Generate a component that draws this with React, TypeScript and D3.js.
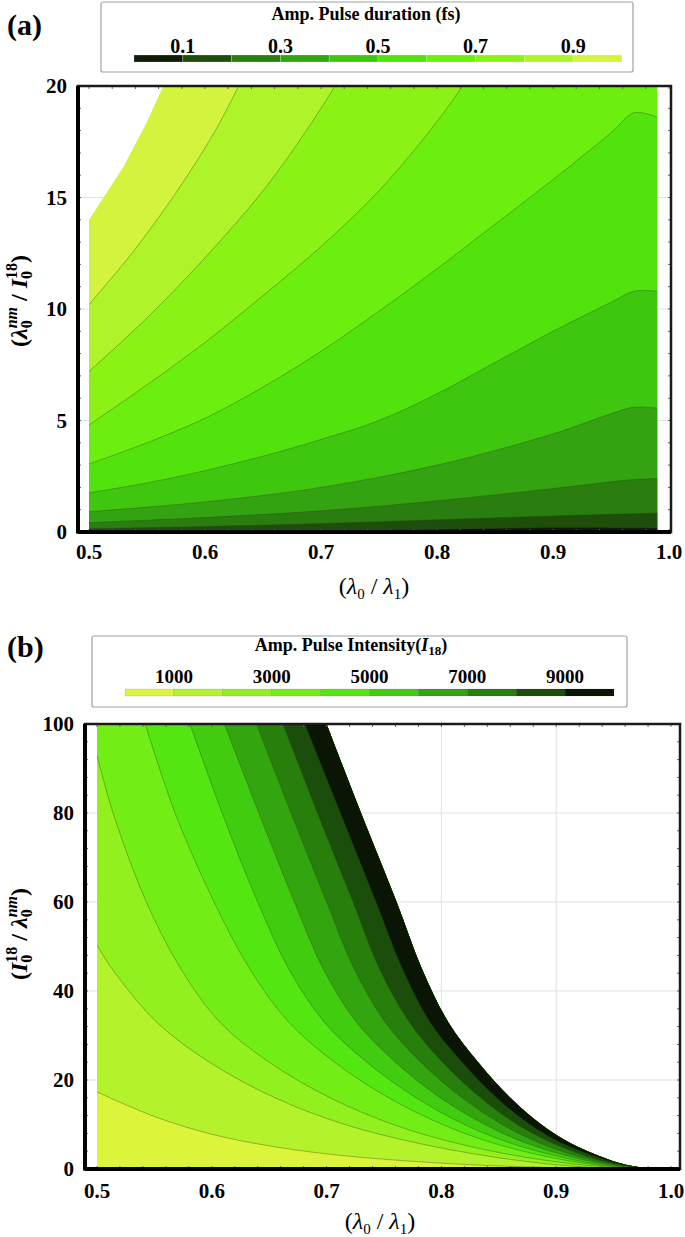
import React from 'react';
import * as d3 from 'd3';

type Pt = [number, number];

// ---------- panel (a): amplified pulse duration (fs) ----------
const durationBins = [0, 0.1, 0.2, 0.3, 0.4, 0.5, 0.6, 0.7, 0.8, 0.9, 1.0];
const durationColors = ['#0e1c07', '#1d4f0b', '#2a7d0f', '#33a311', '#3fc70f', '#52e30c', '#6cef0f', '#8bf216', '#aef428', '#d2f43c'];
const durationLegendTicks = [0.1, 0.3, 0.5, 0.7, 0.9];
const durationXTicks = [0.5, 0.6, 0.7, 0.8, 0.9, 1.0];
const durationYTicks = [0, 5, 10, 15, 20];
const durationDataX = [0.5, 0.99];

// contour lines: [λ0/λ1, λ0nm/I0^18]
const dur01: Pt[] = [[0.5, 0.03], [0.6, 0.04], [0.7, 0.06], [0.8, 0.12], [0.9, 0.2], [0.99, 0.18]];
const dur02: Pt[] = [[0.5, 0.15], [0.6, 0.25], [0.7, 0.38], [0.8, 0.55], [0.9, 0.72], [0.99, 0.85]];
const dur03: Pt[] = [[0.5, 0.42], [0.6, 0.65], [0.7, 0.95], [0.8, 1.4], [0.9, 1.95], [0.97, 2.35], [0.99, 2.4]];
const dur04: Pt[] = [[0.5, 0.91], [0.6, 1.35], [0.7, 2.0], [0.8, 3.0], [0.9, 4.4], [0.95, 5.3], [0.97, 5.6], [0.99, 5.55]];
const dur05: Pt[] = [[0.5, 1.76], [0.55, 2.2], [0.6, 2.75], [0.65, 3.4], [0.7, 4.15], [0.75, 5.0], [0.8, 6.2], [0.85, 7.6], [0.9, 9.0], [0.95, 10.3], [0.97, 10.8], [0.99, 10.8]];
const dur06: Pt[] = [[0.5, 3.05], [0.55, 4.0], [0.6, 5.1], [0.65, 6.5], [0.7, 8.1], [0.75, 9.9], [0.8, 11.8], [0.85, 13.8], [0.9, 15.8], [0.95, 17.9], [0.97, 18.8], [0.99, 18.6]];
const dur07: Pt[] = [[0.5, 4.8], [0.55, 6.6], [0.6, 8.5], [0.65, 10.6], [0.7, 12.8], [0.75, 15.3], [0.8, 18.4], [0.822, 20]];
const dur08: Pt[] = [[0.5, 7.2], [0.55, 9.6], [0.6, 12.3], [0.65, 15.3], [0.69, 18.2], [0.712, 20]];
const dur09: Pt[] = [[0.5, 10.2], [0.54, 12.7], [0.58, 15.6], [0.61, 18.1], [0.629, 20]];
const durationLines = [dur01, dur02, dur03, dur04, dur05, dur06, dur07, dur08, dur09];
// edge of the computed area (white, top-left)
const durationEdge: Pt[] = [[0.5, 14.0], [0.505, 14.4], [0.53, 16.4], [0.55, 18.4], [0.564, 20]];

// ---------- panel (b): amplified pulse intensity ----------
const intensityBins = [0, 1000, 2000, 3000, 4000, 5000, 6000, 7000, 8000, 9000, 10000];
const intensityColors = ['#dcf43a', '#b4f22c', '#92f01e', '#72ee16', '#54e611', '#42cc10', '#33a50e', '#27800c', '#1a4e0a', '#0a1505'];
const intensityLegendTicks = [1000, 3000, 5000, 7000, 9000];
const intensityXTicks = [0.5, 0.6, 0.7, 0.8, 0.9, 1.0];
const intensityYTicks = [0, 20, 40, 60, 80, 100];

// contour lines: [λ0/λ1, I0^18/λ0nm]
const int1000: Pt[] = [[0.5, 17.3], [0.55, 11.8], [0.6, 7.8], [0.65, 5.2], [0.7, 3.4], [0.76, 2.0], [0.83, 0.9], [0.9, 0.3], [0.95, 0]];
const int2000: Pt[] = [[0.5, 50.3], [0.513, 45], [0.552, 33], [0.598, 24], [0.655, 16], [0.716, 10], [0.776, 6], [0.838, 3], [0.898, 1], [0.958, 0]];
const int3000: Pt[] = [[0.5, 93], [0.514, 80], [0.543, 60], [0.573, 45], [0.607, 33], [0.65, 24], [0.703, 16], [0.758, 10], [0.81, 6], [0.865, 3], [0.92, 1], [0.968, 0]];
const int4000: Pt[] = [[0.542, 100], [0.568, 80], [0.602, 60], [0.633, 45], [0.667, 33], [0.707, 24], [0.754, 16], [0.801, 10], [0.843, 6], [0.888, 3], [0.932, 1], [0.974, 0]];
const int5000: Pt[] = [[0.581, 100], [0.609, 80], [0.64, 60], [0.667, 45], [0.698, 33], [0.735, 24], [0.778, 16], [0.82, 10], [0.858, 6], [0.899, 3], [0.938, 1], [0.977, 0]];
const int6000: Pt[] = [[0.611, 100], [0.641, 80], [0.672, 60], [0.697, 45], [0.726, 33], [0.76, 24], [0.799, 16], [0.838, 10], [0.872, 6], [0.909, 3], [0.944, 1], [0.979, 0]];
const int7000: Pt[] = [[0.639, 100], [0.669, 80], [0.7, 60], [0.724, 45], [0.751, 33], [0.782, 24], [0.818, 16], [0.853, 10], [0.884, 6], [0.917, 3], [0.949, 1], [0.981, 0]];
const int8000: Pt[] = [[0.662, 100], [0.692, 80], [0.723, 60], [0.746, 45], [0.772, 33], [0.801, 24], [0.834, 16], [0.866, 10], [0.895, 6], [0.925, 3], [0.953, 1], [0.983, 0]];
const int9000: Pt[] = [[0.681, 100], [0.712, 80], [0.743, 60], [0.766, 45], [0.79, 33], [0.818, 24], [0.848, 16], [0.877, 10], [0.903, 6], [0.932, 3], [0.957, 1], [0.984, 0]];
const intensityLines = [int1000, int2000, int3000, int4000, int5000, int6000, int7000, int8000, int9000];
const intensityEdge: Pt[] = [[0.7, 100], [0.73, 80], [0.761, 60], [0.783, 45], [0.806, 33], [0.832, 24], [0.86, 16], [0.887, 10], [0.911, 6], [0.937, 3], [0.96, 1], [0.985, 0]];

const serif = '"Liberation Serif", "Times New Roman", serif';

const Frame = ({ left, right, top, bottom, xs, ys, x, y }: any) => (
  <g>
    {xs.map((v: number) => (
      <g key={'mx' + v}>
        <line x1={x(v)} x2={x(v)} y1={top} y2={top + 3} stroke="#666" strokeWidth={1} />
        <line x1={x(v)} x2={x(v)} y1={bottom} y2={bottom - 3} stroke="#666" strokeWidth={1} />
      </g>
    ))}
    {ys.map((v: number) => (
      <g key={'my' + v}>
        <line x1={left} x2={left + 3} y1={y(v)} y2={y(v)} stroke="#666" strokeWidth={1} />
        <line x1={right} x2={right - 3} y1={y(v)} y2={y(v)} stroke="#666" strokeWidth={1} />
      </g>
    ))}
    <rect x={left} y={top} width={right - left} height={bottom - top} fill="none" stroke="#1a1a1a" strokeWidth={2.5} />
    <line x1={left} x2={left} y1={top} y2={bottom + 1.5} stroke="#000" strokeWidth={4} />
    <line x1={left} x2={right} y1={bottom} y2={bottom} stroke="#000" strokeWidth={4} />
  </g>
);

export default function App() {
  // panel (a) scales
  const xA = d3.scaleLinear().domain([0.5, 1.0]).range([89, 669]);
  const yA = d3.scaleLinear().domain([0, 20]).range([532, 86]);
  const fA = { left: 78, right: 671, top: 86, bottom: 532 };
  const lineA = d3.line<Pt>().x(d => xA(d[0])).y(d => yA(d[1])).curve(d3.curveCatmullRom.alpha(0.5));
  const edgeA = d3.line<Pt>().x(d => xA(d[0])).y(d => yA(d[1]));
  const xMaxA = durationDataX[1];
  const belowA = (pts: Pt[]) => {
    let s = lineA(pts) as string;
    if (pts[pts.length - 1][1] >= 20) s += `L${xA(xMaxA)},${yA(20)}`;
    return s + `L${xA(xMaxA)},${yA(0)}L${xA(0.5)},${yA(0)}Z`;
  };
  const clipA =
    `M${xA(0.5)},${yA(0)}` + (edgeA(durationEdge) as string).replace(/^M/, 'L') +
    `L${xA(xMaxA)},${yA(20)}L${xA(xMaxA)},${yA(0)}Z`;

  // panel (b) scales
  const xB = d3.scaleLinear().domain([0.5, 1.0]).range([97, 671]);
  const yB = d3.scaleLinear().domain([0, 100]).range([1169, 724]);
  const fB = { left: 85, right: 680, top: 724, bottom: 1169 };
  const lineB = d3.line<Pt>().x(d => xB(d[0])).y(d => yB(d[1])).curve(d3.curveCatmullRom.alpha(0.5));
  const rightB = (pts: Pt[]) => {
    let s = lineB(pts) as string;
    s += `L${xB(1.0)},${yB(0)}L${xB(1.0)},${yB(100)}`;
    if (pts[0][1] < 100) s += `L${xB(0.5)},${yB(100)}`;
    return s + 'Z';
  };
  const clipB =
    `M${xB(0.5)},${yB(0)}L${xB(0.5)},${yB(100)}` + (lineB(intensityEdge) as string).replace(/^M/, 'L') + 'Z';

  // legends
  const legA = d3.scaleLinear().domain([0, 1]).range([134, 622]);
  const legB = d3.scaleLinear().domain([0, 10000]).range([125, 614]);

  const minorXA = d3.range(0.5, 1.0001, 0.02);
  const minorYA = d3.range(0, 20.001, 1);
  const minorXB = d3.range(0.5, 1.0001, 0.02);
  const minorYB = d3.range(0, 100.001, 4);

  return (
    <svg width={685} height={1237} style={{ position: 'absolute', left: 0, top: 0 }} fontFamily={serif}>
      <defs>
        <clipPath id="clipA"><path d={clipA} /></clipPath>
        <clipPath id="clipB"><path d={clipB} /></clipPath>
      </defs>
      <rect width={685} height={1237} fill="#fff" />

      {/* ---------------- (a) ---------------- */}
      <text x={7} y={35} fontSize={30} fontWeight="bold">(a)</text>
      <rect x={101} y={2} width={532} height={70} rx={2} fill="#fff" stroke="#9aa5a5" strokeWidth={1.2} />
      <text x={366} y={20} fontSize={18} fontWeight="bold" textAnchor="middle">Amp. Pulse duration (fs)</text>
      {durationLegendTicks.map(t => (
        <text key={t} x={legA(t)} y={53} fontSize={20} fontWeight="bold" textAnchor="middle">{t.toFixed(1)}</text>
      ))}
      {durationColors.map((c, i) => (
        <rect key={c} x={legA(durationBins[i])} y={55} width={legA(durationBins[i + 1]) - legA(durationBins[i])} height={7}
          fill={c} stroke="rgba(255,255,255,0.35)" strokeWidth={0.6} />
      ))}

      {durationYTicks.slice(1, -1).map(t => (
        <line key={t} x1={fA.left} x2={fA.right} y1={yA(t)} y2={yA(t)} stroke="#dde3e3" strokeWidth={1} />
      ))}
      <g clipPath="url(#clipA)">
        <rect x={xA(0.5)} y={yA(20)} width={xA(xMaxA) - xA(0.5)} height={yA(0) - yA(20)} fill={durationColors[9]} />
        {durationLines.slice().reverse().map((pts, k) => {
          const i = durationLines.length - 1 - k;
          return <path key={'fa' + i} d={belowA(pts)} fill={durationColors[i]} />;
        })}
        {durationLines.map((pts, i) => (
          <path key={'la' + i} d={lineA(pts) as string} fill="none" stroke="#2c4a18" strokeOpacity={0.55} strokeWidth={0.7} />
        ))}
      </g>
      <Frame {...fA} xs={minorXA} ys={minorYA} x={xA} y={yA} />
      {durationXTicks.map(t => (
        <text key={t} x={xA(t)} y={559} fontSize={21} fontWeight="bold" textAnchor="middle">{t.toFixed(1)}</text>
      ))}
      {durationYTicks.map(t => (
        <text key={t} x={67} y={yA(t)} dy="0.35em" fontSize={21} fontWeight="bold" textAnchor="end">{t}</text>
      ))}
      <text x={374} y={594} fontSize={24} textAnchor="middle">
        (<tspan fontStyle="italic">λ</tspan><tspan fontSize={15} dy={5}>0</tspan><tspan dy={-5}> / </tspan>
        <tspan fontStyle="italic">λ</tspan><tspan fontSize={15} dy={5}>1</tspan><tspan dy={-5}>)</tspan>
      </text>
      <text transform="translate(27,301) rotate(-90)" fontSize={24} fontWeight="bold" textAnchor="middle">
        (<tspan fontStyle="italic">λ</tspan><tspan fontSize={16} dy={5}>0</tspan>
        <tspan fontSize={16} fontStyle="italic" dx={-8} dy={-15}>nm</tspan><tspan dy={10}> / </tspan>
        <tspan fontStyle="italic">I</tspan><tspan fontSize={16} dy={5}>0</tspan>
        <tspan fontSize={16} dx={-8} dy={-15}>18</tspan><tspan dy={10}>)</tspan>
      </text>

      {/* ---------------- (b) ---------------- */}
      <text x={7} y={657} fontSize={30} fontWeight="bold">(b)</text>
      <rect x={92} y={636} width={535} height={71} rx={2} fill="#fff" stroke="#9aa5a5" strokeWidth={1.2} />
      <text x={351} y={651} fontSize={18} fontWeight="bold" textAnchor="middle">
        Amp. Pulse Intensity(<tspan fontStyle="italic">I</tspan><tspan fontSize={13} dy={4}>18</tspan><tspan dy={-4}>)</tspan>
      </text>
      {intensityLegendTicks.map(t => (
        <text key={t} x={legB(t)} y={683} fontSize={19} fontWeight="bold" textAnchor="middle">{t}</text>
      ))}
      {intensityColors.map((c, i) => (
        <rect key={c} x={legB(intensityBins[i])} y={689} width={legB(intensityBins[i + 1]) - legB(intensityBins[i])} height={7}
          fill={c} stroke="rgba(0,0,0,0.15)" strokeWidth={0.6} />
      ))}

      {intensityYTicks.slice(1, -1).map(t => (
        <line key={'gy' + t} x1={fB.left} x2={fB.right} y1={yB(t)} y2={yB(t)} stroke="#dde3e3" strokeWidth={1} />
      ))}
      {intensityXTicks.slice(1, -1).map(t => (
        <line key={'gx' + t} x1={xB(t)} x2={xB(t)} y1={fB.top} y2={fB.bottom} stroke="#dde3e3" strokeWidth={1} />
      ))}
      <g clipPath="url(#clipB)">
        <rect x={xB(0.5)} y={yB(100)} width={xB(1.0) - xB(0.5)} height={yB(0) - yB(100)} fill={intensityColors[0]} />
        {intensityLines.map((pts, i) => (
          <path key={'fb' + i} d={rightB(pts)} fill={intensityColors[i + 1]} />
        ))}
        {intensityLines.map((pts, i) => (
          <path key={'lb' + i} d={lineB(pts) as string} fill="none" stroke="#2c4a18" strokeOpacity={0.55} strokeWidth={0.7} />
        ))}
      </g>
      <Frame {...fB} xs={minorXB} ys={minorYB} x={xB} y={yB} />
      {intensityXTicks.map(t => (
        <text key={t} x={xB(t)} y={1198} fontSize={21} fontWeight="bold" textAnchor="middle">{t.toFixed(1)}</text>
      ))}
      {intensityYTicks.map(t => (
        <text key={t} x={74} y={yB(t)} dy="0.35em" fontSize={21} fontWeight="bold" textAnchor="end">{t}</text>
      ))}
      <text x={380} y={1229} fontSize={24} textAnchor="middle">
        (<tspan fontStyle="italic">λ</tspan><tspan fontSize={15} dy={5}>0</tspan><tspan dy={-5}> / </tspan>
        <tspan fontStyle="italic">λ</tspan><tspan fontSize={15} dy={5}>1</tspan><tspan dy={-5}>)</tspan>
      </text>
      <text transform="translate(27,934) rotate(-90)" fontSize={24} fontWeight="bold" textAnchor="middle">
        (<tspan fontStyle="italic">I</tspan><tspan fontSize={16} dy={5}>0</tspan>
        <tspan fontSize={16} dx={-8} dy={-15}>18</tspan><tspan dy={10}> / </tspan>
        <tspan fontStyle="italic">λ</tspan><tspan fontSize={16} dy={5}>0</tspan>
        <tspan fontSize={16} fontStyle="italic" dx={-8} dy={-15}>nm</tspan><tspan dy={10}>)</tspan>
      </text>
    </svg>
  );
}
